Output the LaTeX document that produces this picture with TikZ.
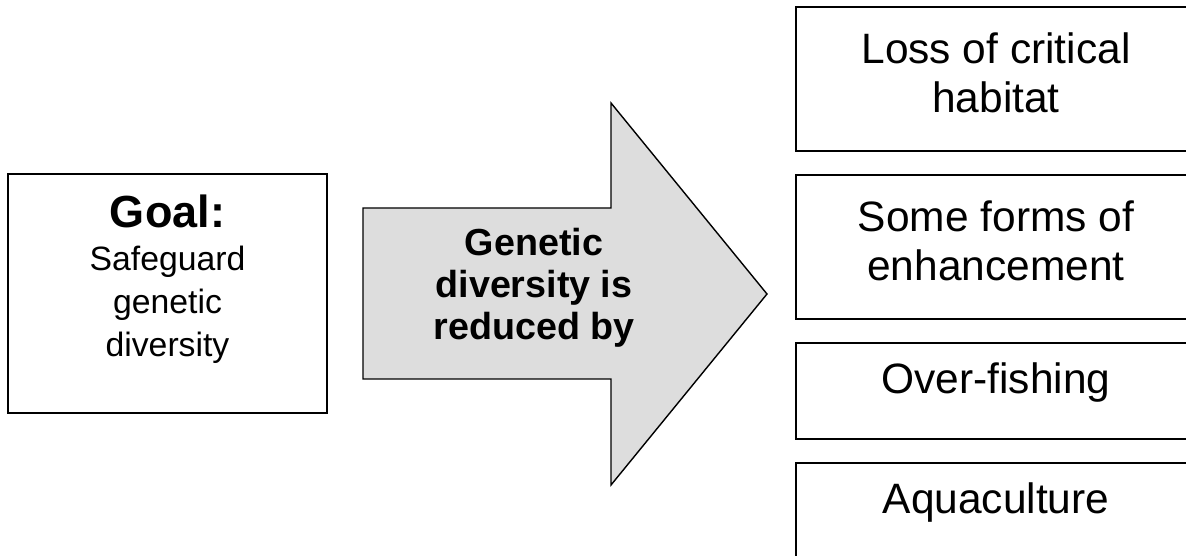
\documentclass[tikz,border=0pt]{standalone}
\usepackage{fontspec}
\setmainfont{Liberation Sans}
\usetikzlibrary{positioning}
\definecolor{arrowgray}{RGB}{221,221,221}

\begin{document}
\begin{tikzpicture}[
    x=0.025cm, y=-0.025cm,
    goalbox/.style={rectangle, draw=black, line width=1pt, minimum width=7.975cm, minimum height=5.975cm, inner sep=0pt},
    goaltext/.style={align=center, inner sep=0pt, font=\fontsize{24}{30.5}\selectfont},
    causebox/.style={rectangle, draw=black, line width=1pt, minimum width=10cm, inner sep=0pt},
    causetext/.style={align=center, inner sep=0pt, font=\fontsize{30.2}{35}\selectfont},
    bigarrow/.style={draw=black, line width=1pt, fill=arrowgray, line join=miter},
    arrowtext/.style={align=center, inner sep=0pt, font=\fontsize{26.8}{30}\selectfont\bfseries},
]
\useasboundingbox (0,0) rectangle (1186,556);
\clip (0,0) rectangle (1186,556);

% Goal
\node[goalbox] (goal) at (167.5,293.5) {};
\node[goaltext] (goalline) at (167.5,279) {{\fontsize{32}{30.5}\selectfont\bfseries Goal:}\\Safeguard\\genetic\\diversity};

% Big arrow
\draw[bigarrow] (363,208) -- (611,208) -- (611,103) -- (767,294) -- (611,485) -- (611,379) -- (363,379) -- cycle;
\node[arrowtext] (reduce) at (534,288) {Genetic\\diversity is\\reduced by};

% Causes
\node[causebox, minimum height=3.6cm] (habitat) at (996,79) {};
\node[causetext, below=0.65cm of habitat.north] (habitattext) {Loss of critical\\habitat};
\node[causebox, minimum height=3.6cm] (enhance) at (996,247) {};
\node[causetext, below=0.65cm of enhance.north] (enhancetext) {Some forms of\\enhancement};
\node[causebox, minimum height=2.4cm] (fishing) at (996,391) {};
\node[causetext, below=0.5cm of fishing.north] (fishingtext) {Over-fishing};
\node[causebox, minimum height=2.4cm] (aqua) at (996,511) {};
\node[causetext, below=0.5cm of aqua.north] (aquatext) {Aquaculture};
\end{tikzpicture}
\end{document}
